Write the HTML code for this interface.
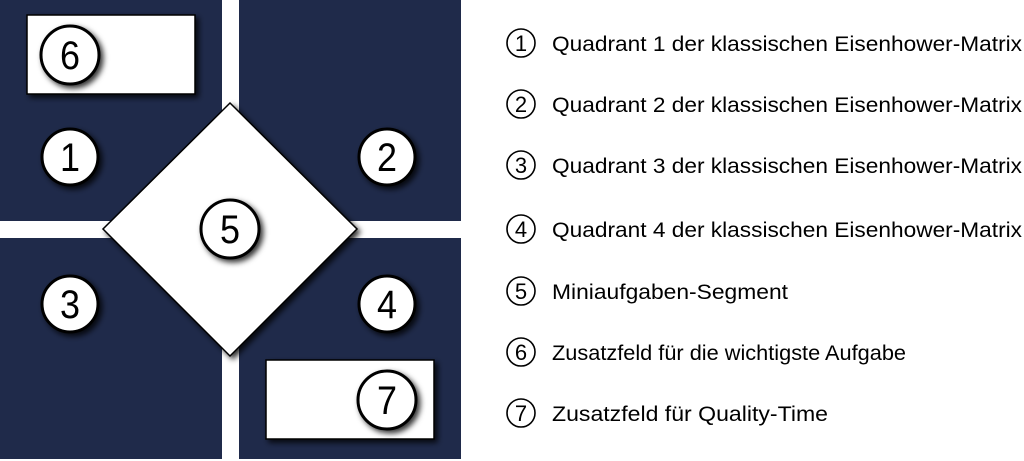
<!DOCTYPE html>
<html><head><meta charset="utf-8"><style>html,body{margin:0;padding:0;background:#fff}svg{display:block}</style></head>
<body>
<svg width="1024" height="461" viewBox="0 0 1024 461" xmlns="http://www.w3.org/2000/svg">
<defs>
<filter id="sh" x="-30%" y="-30%" width="160%" height="160%"><feDropShadow dx="3" dy="3" stdDeviation="3" flood-color="#000" flood-opacity="0.8"/></filter>
</defs>
<g fill="#1f2a4a">
<rect x="0" y="0" width="222" height="221"/>
<rect x="239" y="0" width="222" height="221"/>
<rect x="0" y="238" width="222" height="221"/>
<rect x="239" y="238" width="222" height="221"/>
</g>
<g stroke="#000" stroke-width="1.5" fill="#fff" filter="url(#sh)">
<rect x="27" y="15" width="168" height="79"/>
<rect x="266" y="360" width="168" height="79"/>
<polygon points="230,103 357,229 230,356 103,229"/>
</g>
<g stroke="#000" stroke-width="3" fill="#fff" filter="url(#sh)">
<circle cx="70" cy="55" r="29"/>
<circle cx="70" cy="157" r="28"/>
<circle cx="387" cy="157" r="28"/>
<circle cx="70" cy="304" r="28"/>
<circle cx="387" cy="304" r="28"/>
<circle cx="230" cy="229" r="29"/>
<circle cx="387" cy="400" r="29"/>
</g>
<g font-family="Liberation Sans, sans-serif" font-size="40" text-anchor="middle" fill="#000">
<text x="70" y="69" textLength="20" lengthAdjust="spacingAndGlyphs">6</text>
<text x="70" y="171" textLength="20" lengthAdjust="spacingAndGlyphs">1</text>
<text x="387" y="171" textLength="20" lengthAdjust="spacingAndGlyphs">2</text>
<text x="70" y="318" textLength="20" lengthAdjust="spacingAndGlyphs">3</text>
<text x="387" y="318" textLength="20" lengthAdjust="spacingAndGlyphs">4</text>
<text x="230" y="243" textLength="20" lengthAdjust="spacingAndGlyphs">5</text>
<text x="387" y="414" textLength="20" lengthAdjust="spacingAndGlyphs">7</text>
</g>
<g stroke="#000" stroke-width="1.6" fill="none">
<circle cx="521" cy="43" r="14"/><circle cx="521" cy="104" r="14"/><circle cx="521" cy="165" r="14"/><circle cx="521" cy="229" r="14"/><circle cx="521" cy="291" r="14"/><circle cx="521" cy="352" r="14"/><circle cx="521" cy="413" r="14"/>
</g>
<g font-family="Liberation Sans, sans-serif" font-size="22" text-anchor="middle" fill="#000">
<text x="521" y="51">1</text><text x="521" y="112">2</text><text x="521" y="173">3</text><text x="521" y="237">4</text><text x="521" y="299">5</text><text x="521" y="360">6</text><text x="521" y="421">7</text>
</g>
<g font-family="Liberation Sans, sans-serif" font-size="21" fill="#000">
<text x="552" y="51" textLength="470" lengthAdjust="spacingAndGlyphs">Quadrant 1 der klassischen Eisenhower-Matrix</text>
<text x="552" y="112" textLength="470" lengthAdjust="spacingAndGlyphs">Quadrant 2 der klassischen Eisenhower-Matrix</text>
<text x="552" y="173" textLength="470" lengthAdjust="spacingAndGlyphs">Quadrant 3 der klassischen Eisenhower-Matrix</text>
<text x="552" y="237" textLength="470" lengthAdjust="spacingAndGlyphs">Quadrant 4 der klassischen Eisenhower-Matrix</text>
<text x="552" y="299" textLength="236" lengthAdjust="spacingAndGlyphs">Miniaufgaben-Segment</text>
<text x="552" y="360" textLength="354" lengthAdjust="spacingAndGlyphs">Zusatzfeld für die wichtigste Aufgabe</text>
<text x="552" y="421" textLength="276" lengthAdjust="spacingAndGlyphs">Zusatzfeld für Quality-Time</text>
</g>
</svg>
</body></html>
